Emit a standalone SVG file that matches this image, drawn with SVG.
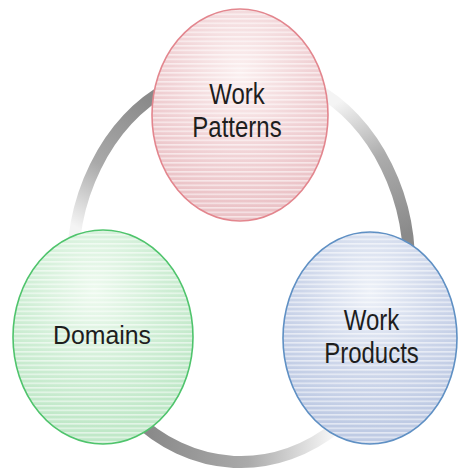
<svg xmlns="http://www.w3.org/2000/svg" width="459" height="473" viewBox="0 0 459 473">
  <defs>
    <style>
      .ring { fill: none; stroke-width: 12; stroke-linecap: butt; }
      .label { font-family: "Liberation Sans", Arial, sans-serif; font-size: 24px; fill: #1e1e1e; text-anchor: middle; }
      .node-stroke { stroke-width: 1.6; }
    </style>

    <!-- fades along each ring segment: dark where it leaves a node, pale where it arrives -->
    <linearGradient id="fadeA" gradientUnits="userSpaceOnUse" x1="150" y1="100" x2="78" y2="228">
      <stop offset="0" stop-color="#8a8a8a"/>
      <stop offset="0.55" stop-color="#a9a9a9"/>
      <stop offset="1" stop-color="#f4f4f4"/>
    </linearGradient>
    <linearGradient id="fadeB" gradientUnits="userSpaceOnUse" x1="403" y1="236" x2="337" y2="103">
      <stop offset="0" stop-color="#8a8a8a"/>
      <stop offset="0.55" stop-color="#acacac"/>
      <stop offset="1" stop-color="#f4f4f4"/>
    </linearGradient>
    <linearGradient id="fadeC" gradientUnits="userSpaceOnUse" x1="150" y1="433" x2="330" y2="440">
      <stop offset="0" stop-color="#8a8a8a"/>
      <stop offset="0.55" stop-color="#aaaaaa"/>
      <stop offset="1" stop-color="#f4f4f4"/>
    </linearGradient>

    <!-- soft highlights for the node fills -->
    <radialGradient id="pinkFill" cx="0.5" cy="0.3" r="0.65">
      <stop offset="0" stop-color="#fbf0f0"/>
      <stop offset="0.6" stop-color="#f1d3d6"/>
      <stop offset="1" stop-color="#ebc3c7"/>
    </radialGradient>
    <radialGradient id="greenFill" cx="0.45" cy="0.28" r="0.65">
      <stop offset="0" stop-color="#eefaef"/>
      <stop offset="0.6" stop-color="#cfeed5"/>
      <stop offset="1" stop-color="#c0e8c8"/>
    </radialGradient>
    <radialGradient id="blueFill" cx="0.5" cy="0.28" r="0.65">
      <stop offset="0" stop-color="#edf1f8"/>
      <stop offset="0.6" stop-color="#cdd6ea"/>
      <stop offset="1" stop-color="#bfcbe4"/>
    </radialGradient>

    <!-- thin horizontal pale stripes laid over every node -->
    <pattern id="stripes" patternUnits="userSpaceOnUse" width="459" height="4.5">
      <rect x="0" y="0" width="459" height="1.6" fill="#ffffff" fill-opacity="0.55"/>
    </pattern>
  </defs>

  <rect width="459" height="473" fill="#ffffff"/>

  <!-- ring segments linking the three nodes -->
  <g id="connectors">
    <path class="ring" stroke="url(#fadeA)" d="M 170 86.5 A 168 197 0 0 0 73.6 282.2"/>
    <path class="ring" stroke="url(#fadeB)" d="M 408.4 282.2 A 168 197 0 0 0 312 86.5"/>
    <path class="ring" stroke="url(#fadeC)" d="M 133 416 A 168 197 0 0 0 337.4 426.4"/>
  </g>

  <g id="work-patterns">
    <ellipse cx="240" cy="115" rx="88" ry="106" fill="url(#pinkFill)"/>
    <ellipse cx="240" cy="115" rx="88" ry="106" fill="url(#stripes)"/>
    <ellipse class="node-stroke" cx="240" cy="115" rx="88" ry="106" fill="none" stroke="#e3868e"/>
    <text class="label" transform="translate(237 104) scale(1 1.2)">Work</text>
    <text class="label" transform="translate(237 137) scale(1 1.2)">Patterns</text>
  </g>

  <g id="domains">
    <ellipse cx="103" cy="337" rx="90" ry="107" fill="url(#greenFill)"/>
    <ellipse cx="103" cy="337" rx="90" ry="107" fill="url(#stripes)"/>
    <ellipse class="node-stroke" cx="103" cy="337" rx="90" ry="107" fill="none" stroke="#4fc46c"/>
    <text class="label" transform="translate(102 344) scale(1 1.15)" style="font-size:23px" textLength="98" lengthAdjust="spacingAndGlyphs" x="0" y="0">Domains</text>
  </g>

  <g id="work-products">
    <ellipse cx="370" cy="338" rx="87" ry="106" fill="url(#blueFill)"/>
    <ellipse cx="370" cy="338" rx="87" ry="106" fill="url(#stripes)"/>
    <ellipse class="node-stroke" cx="370" cy="338" rx="87" ry="106" fill="none" stroke="#5f90c4"/>
    <text class="label" transform="translate(371.5 330) scale(1 1.2)">Work</text>
    <text class="label" transform="translate(371.5 363) scale(1 1.2)">Products</text>
  </g>
</svg>
